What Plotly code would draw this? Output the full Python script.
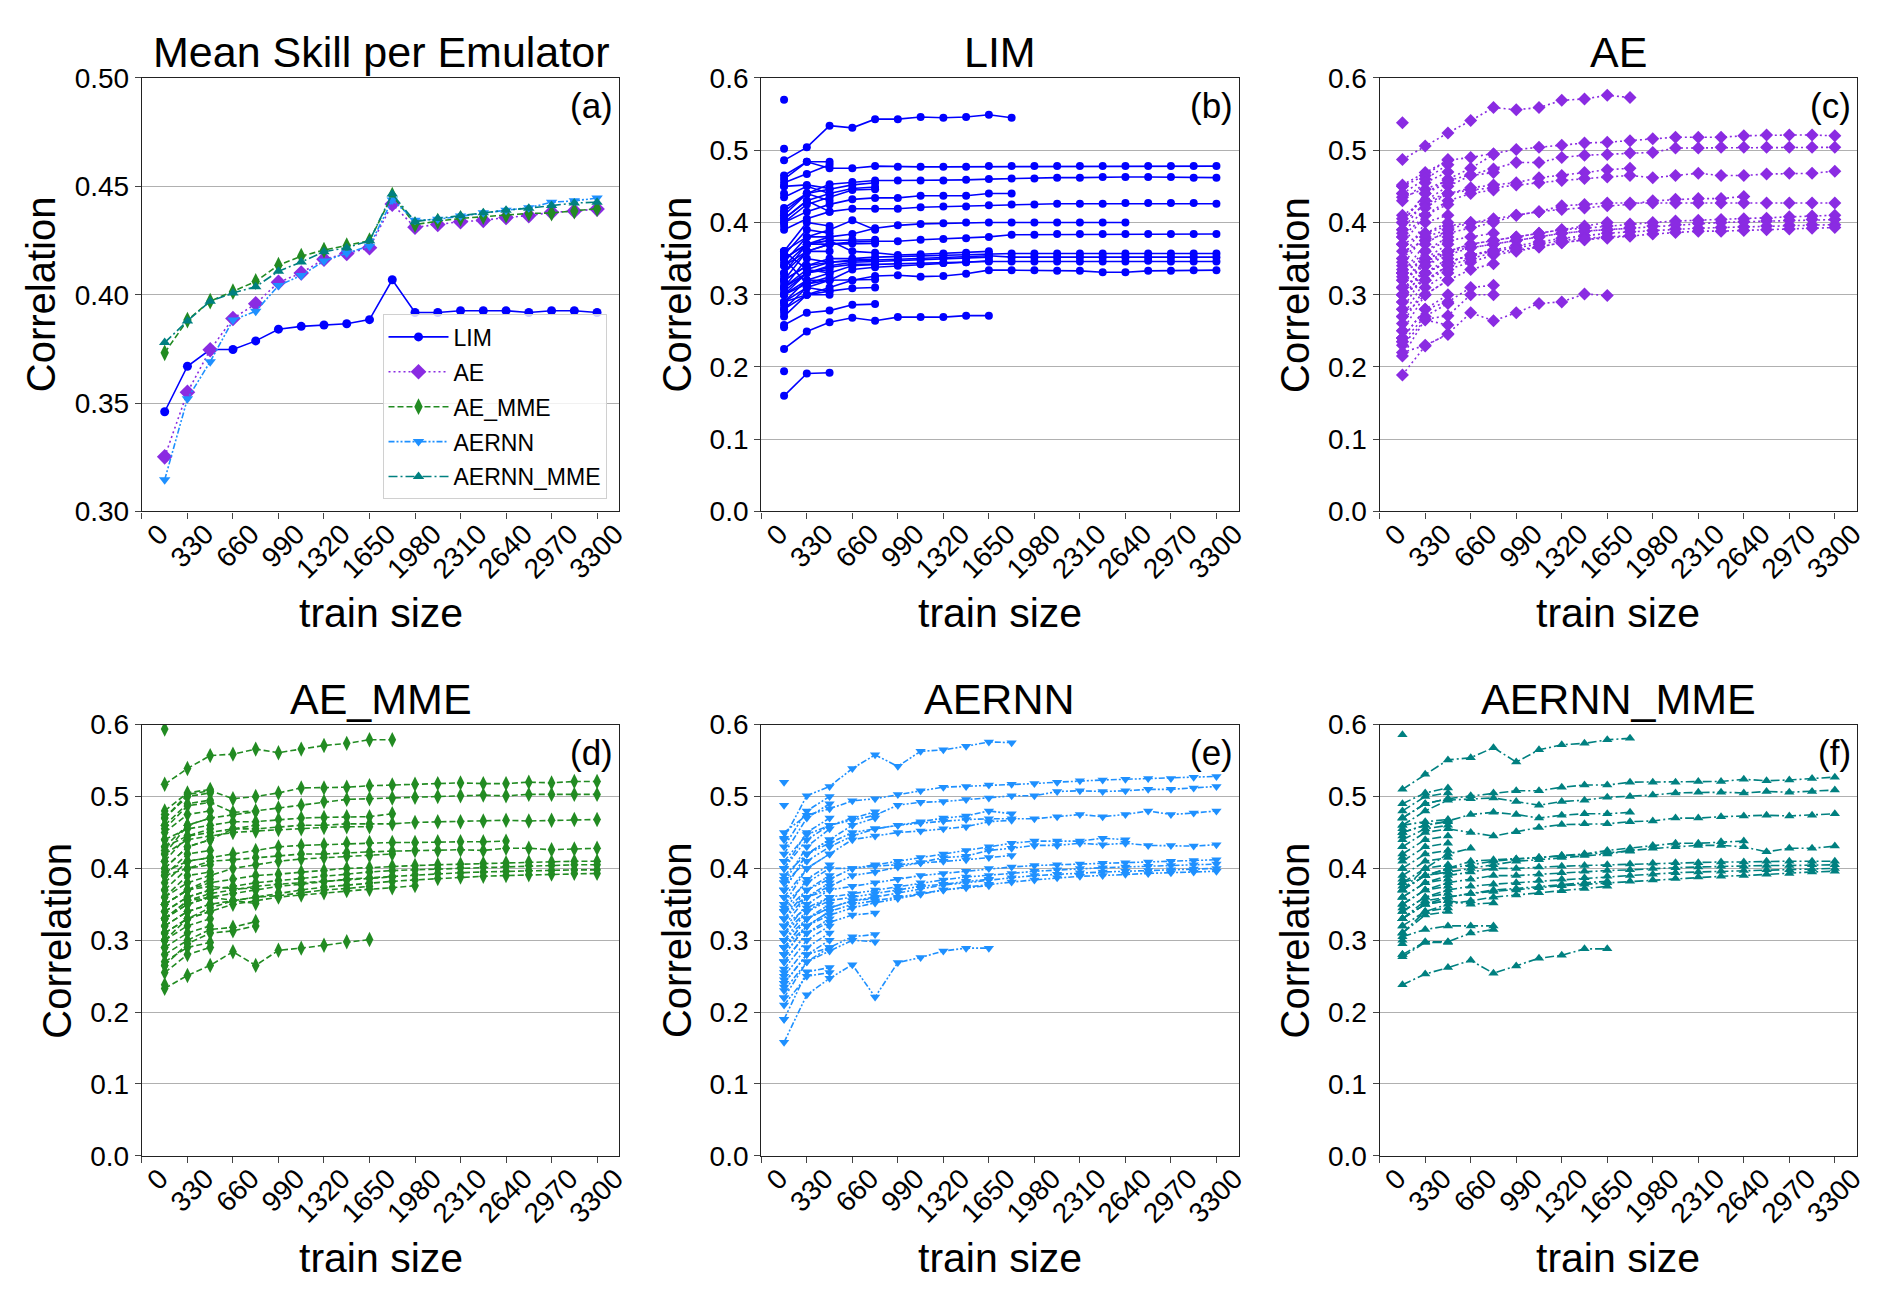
import plotly.graph_objects as go

# train sizes (x positions of every point)
TRAIN_SIZES = [165, 330, 495, 660, 825, 990, 1155, 1320, 1485, 1650,
               1815, 1980, 2145, 2310, 2475, 2640, 2805, 2970, 3135, 3300]
X_TICKS = [0, 330, 660, 990, 1320, 1650, 1980, 2310, 2640, 2970, 3300]

# (a) mean skill per emulator
MEAN_LIM = [0.346, 0.367, 0.3747, 0.3747, 0.3787, 0.3841, 0.3854, 0.386, 0.3866, 0.3885,
            0.4069, 0.3918, 0.3918, 0.3926, 0.3926, 0.3926, 0.3918, 0.3926, 0.3926, 0.3918]
MEAN_AE = [0.3252, 0.355, 0.3746, 0.389, 0.3958, 0.4057, 0.410, 0.4164, 0.419, 0.4217,
           0.4418, 0.4311, 0.4324, 0.4337, 0.4343, 0.4356, 0.4365, 0.438, 0.4386, 0.4395]
MEAN_AE_MME = [0.3732, 0.3883, 0.397, 0.4014, 0.4061, 0.4136, 0.4178, 0.4206, 0.4226, 0.4249,
               0.4459, 0.4324, 0.4339, 0.4352, 0.436, 0.4367, 0.4375, 0.4377, 0.4386, 0.4397]
MEAN_AERNN = [0.3146, 0.352, 0.3691, 0.3883, 0.3924, 0.4042, 0.4089, 0.4155, 0.4192, 0.4224,
              0.4437, 0.4343, 0.4348, 0.4363, 0.4378, 0.439, 0.4401, 0.4427, 0.4433, 0.4446]
MEAN_AERNN_MME = [0.3779, 0.3879, 0.397, 0.4008, 0.4037, 0.4108, 0.4151, 0.4198, 0.4217, 0.4249,
                  0.4465, 0.4337, 0.4352, 0.4365, 0.4378, 0.439, 0.4399, 0.4412, 0.4423, 0.4427]

# (b) LIM, one list per curve (curve i covers the first len() train sizes)
LIM_LINES = [
    [0.570], [0.502], [0.194],
    [0.486, 0.504, 0.534, 0.531, 0.543, 0.543, 0.546, 0.545, 0.546, 0.549, 0.545],
    [0.465, 0.484, 0.475, 0.475, 0.478, 0.477, 0.477, 0.477, 0.477, 0.478, 0.478, 0.478, 0.478, 0.478, 0.478, 0.478, 0.478, 0.478, 0.478, 0.478],
    [0.41, 0.44, 0.453, 0.456, 0.458, 0.458, 0.458, 0.458, 0.459, 0.460, 0.461, 0.461, 0.462, 0.462, 0.463, 0.463, 0.463, 0.463, 0.462, 0.462],
    [0.40, 0.415, 0.425, 0.432, 0.434, 0.434, 0.437, 0.437, 0.437, 0.440, 0.440],
    [0.39, 0.405, 0.415, 0.419, 0.419, 0.419, 0.421, 0.422, 0.422, 0.424, 0.425, 0.425, 0.426, 0.426, 0.426, 0.427, 0.427, 0.427, 0.427, 0.426],
    [0.34, 0.37, 0.38, 0.384, 0.392, 0.396, 0.398, 0.399, 0.400, 0.400, 0.400, 0.400, 0.400, 0.400, 0.400, 0.400],
    [0.33, 0.36, 0.37, 0.373, 0.374, 0.374, 0.376, 0.377, 0.378, 0.380, 0.383, 0.383, 0.384, 0.384, 0.384, 0.384, 0.384, 0.384, 0.384, 0.384],
    [0.32, 0.34, 0.35, 0.350, 0.352, 0.353, 0.354, 0.355, 0.356, 0.357, 0.357, 0.357, 0.357, 0.357, 0.357, 0.357, 0.357, 0.357, 0.357, 0.357],
    [0.31, 0.335, 0.345, 0.347, 0.348, 0.349, 0.350, 0.351, 0.352, 0.354, 0.352, 0.352, 0.352, 0.352, 0.352, 0.352, 0.352, 0.352, 0.352, 0.352],
    [0.30, 0.32, 0.33, 0.340, 0.342, 0.343, 0.343, 0.344, 0.345, 0.346, 0.346, 0.346, 0.346, 0.346, 0.346, 0.346, 0.347, 0.346, 0.346, 0.346],
    [0.28, 0.30, 0.31, 0.320, 0.326, 0.327, 0.325, 0.326, 0.329, 0.334, 0.334, 0.334, 0.333, 0.333, 0.331, 0.331, 0.333, 0.333, 0.334, 0.334],
    [0.35, 0.37, 0.375, 0.36, 0.358, 0.355, 0.356, 0.357, 0.358, 0.360],
    [0.31, 0.33, 0.34, 0.345, 0.346, 0.347, 0.348, 0.350, 0.350, 0.352],
    [0.29, 0.31, 0.32, 0.335, 0.338, 0.340, 0.342, 0.344, 0.345, 0.347],
    [0.225, 0.249, 0.262, 0.268, 0.264, 0.269, 0.269, 0.269, 0.271, 0.271],
    [0.160, 0.191, 0.192],
    [0.258, 0.275, 0.278, 0.286, 0.287],
    [0.290, 0.300, 0.305, 0.309, 0.310],
    [0.42, 0.44, 0.446, 0.452, 0.455], [0.405, 0.43, 0.44, 0.447, 0.449], [0.40, 0.425, 0.435, 0.445, 0.446],
    [0.36, 0.38, 0.39, 0.403, 0.39], [0.35, 0.37, 0.375, 0.376, 0.376], [0.34, 0.36, 0.37, 0.371, 0.371],
    [0.32, 0.34, 0.345, 0.348, 0.349], [0.305, 0.33, 0.338, 0.342, 0.342], [0.30, 0.315, 0.32, 0.32, 0.321],
    [0.46, 0.484, 0.484], [0.455, 0.467, 0.480], [0.45, 0.452, 0.447], [0.435, 0.45, 0.44], [0.415, 0.44, 0.43],
    [0.405, 0.43, 0.415], [0.36, 0.40, 0.395], [0.355, 0.39, 0.385], [0.345, 0.38, 0.38], [0.33, 0.37, 0.37],
    [0.32, 0.36, 0.36], [0.31, 0.35, 0.345], [0.30, 0.33, 0.335], [0.29, 0.32, 0.32], [0.28, 0.31, 0.305],
    [0.27, 0.30, 0.30], [0.36, 0.335, 0.33], [0.35, 0.315, 0.325],
    [0.45], [0.44], [0.415], [0.41], [0.395], [0.36], [0.355], [0.325], [0.315], [0.30], [0.285], [0.275], [0.255],
]

# (c) AE
AE_LINES = [
    [0.538],
    [0.487, 0.506, 0.524, 0.541, 0.559, 0.556, 0.559, 0.569, 0.571, 0.576, 0.573],
    [0.452, 0.469, 0.486, 0.490, 0.495, 0.501, 0.504, 0.507, 0.510, 0.511, 0.513, 0.516, 0.518, 0.518, 0.518, 0.520, 0.521, 0.521, 0.521, 0.520],
    [0.435, 0.446, 0.458, 0.466, 0.474, 0.483, 0.483, 0.490, 0.493, 0.494, 0.496, 0.497, 0.503, 0.503, 0.504, 0.504, 0.504, 0.504, 0.504, 0.504],
    [0.41, 0.43, 0.44, 0.445, 0.448, 0.452, 0.455, 0.458, 0.461, 0.463, 0.465, 0.462, 0.465, 0.468, 0.465, 0.465, 0.467, 0.468, 0.468, 0.471],
    [0.40, 0.425, 0.44, 0.448, 0.452, 0.455, 0.462, 0.465, 0.469, 0.473, 0.475],
    [0.36, 0.375, 0.385, 0.393, 0.40, 0.41, 0.415, 0.423, 0.425, 0.427, 0.427, 0.427, 0.427, 0.427, 0.427, 0.427, 0.427, 0.427, 0.427, 0.427],
    [0.37, 0.385, 0.395, 0.40, 0.405, 0.41, 0.415, 0.418, 0.42, 0.423, 0.425, 0.43, 0.432, 0.433, 0.433, 0.436],
    [0.33, 0.35, 0.36, 0.37, 0.375, 0.38, 0.385, 0.39, 0.392, 0.395, 0.398, 0.40, 0.402, 0.403, 0.404, 0.405, 0.406, 0.408, 0.409, 0.410],
    [0.32, 0.34, 0.355, 0.365, 0.37, 0.375, 0.38, 0.385, 0.388, 0.39, 0.393, 0.395, 0.397, 0.399, 0.40, 0.401, 0.402, 0.403, 0.404, 0.404],
    [0.31, 0.33, 0.345, 0.355, 0.362, 0.368, 0.373, 0.378, 0.382, 0.385, 0.387, 0.389, 0.391, 0.392, 0.393, 0.394, 0.395, 0.396, 0.397, 0.397],
    [0.30, 0.32, 0.335, 0.345, 0.355, 0.36, 0.366, 0.372, 0.376, 0.378, 0.381, 0.384, 0.386, 0.388, 0.388, 0.389, 0.390, 0.391, 0.392, 0.393],
    [0.33, 0.35, 0.36, 0.365, 0.37, 0.375, 0.38, 0.385, 0.388, 0.39, 0.392],
    [0.31, 0.33, 0.345, 0.355, 0.36, 0.365, 0.37, 0.375, 0.378, 0.38, 0.382],
    [0.30, 0.32, 0.34, 0.35, 0.358, 0.362, 0.366, 0.372, 0.376, 0.380],
    [0.32, 0.345, 0.36, 0.37, 0.375, 0.38, 0.385, 0.39, 0.395, 0.40],
    [0.189, 0.229, 0.246, 0.275, 0.264, 0.275, 0.288, 0.290, 0.301, 0.299],
    [0.215, 0.266, 0.271, 0.300, 0.300], [0.24, 0.28, 0.29, 0.31, 0.313],
    [0.40, 0.44, 0.46, 0.475, 0.494], [0.39, 0.43, 0.45, 0.465, 0.469], [0.38, 0.41, 0.43, 0.44, 0.445],
    [0.35, 0.38, 0.39, 0.40, 0.402], [0.33, 0.36, 0.375, 0.38, 0.385], [0.30, 0.33, 0.345, 0.355, 0.36],
    [0.27, 0.30, 0.32, 0.335, 0.343],
    [0.45, 0.465, 0.487], [0.44, 0.46, 0.48], [0.43, 0.455, 0.47], [0.40, 0.44, 0.455], [0.385, 0.42, 0.44],
    [0.37, 0.41, 0.425], [0.35, 0.40, 0.41], [0.34, 0.385, 0.40], [0.33, 0.37, 0.39], [0.31, 0.36, 0.38],
    [0.30, 0.35, 0.37], [0.29, 0.34, 0.36], [0.28, 0.33, 0.35], [0.27, 0.32, 0.34], [0.26, 0.31, 0.33],
    [0.25, 0.30, 0.32], [0.24, 0.28, 0.30], [0.235, 0.27, 0.288], [0.22, 0.23, 0.245], [0.23, 0.265, 0.258],
    [0.45], [0.44], [0.405], [0.39], [0.38], [0.37], [0.345], [0.335], [0.325], [0.31], [0.30], [0.29],
    [0.28], [0.27], [0.25], [0.24], [0.235],
]

# (d) AE_MME
AE_MME_LINES = [
    [0.594],
    [0.517, 0.539, 0.557, 0.559, 0.566, 0.561, 0.566, 0.571, 0.574, 0.579, 0.579],
    [0.47, 0.503, 0.508, 0.497, 0.500, 0.505, 0.512, 0.512, 0.513, 0.515, 0.516, 0.517, 0.518, 0.519, 0.518, 0.518, 0.520, 0.519, 0.521, 0.521],
    [0.455, 0.487, 0.492, 0.478, 0.480, 0.484, 0.488, 0.493, 0.496, 0.497, 0.498, 0.499, 0.500, 0.501, 0.502, 0.501, 0.503, 0.503, 0.503, 0.503],
    [0.43, 0.445, 0.45, 0.455, 0.455, 0.457, 0.460, 0.460, 0.462, 0.462, 0.462, 0.464, 0.465, 0.465, 0.466, 0.467, 0.466, 0.467, 0.468, 0.468],
    [0.44, 0.455, 0.46, 0.465, 0.465, 0.468, 0.470, 0.471, 0.472, 0.472, 0.476],
    [0.42, 0.44, 0.445, 0.45, 0.452, 0.454, 0.455, 0.457, 0.458, 0.458],
    [0.39, 0.40, 0.41, 0.412, 0.415, 0.418, 0.420, 0.420, 0.422, 0.423, 0.424, 0.425, 0.425, 0.426, 0.425, 0.428, 0.428, 0.426, 0.427, 0.428],
    [0.395, 0.41, 0.415, 0.42, 0.425, 0.43, 0.432, 0.433, 0.435, 0.436, 0.436, 0.436, 0.437, 0.437, 0.437, 0.438],
    [0.35, 0.37, 0.38, 0.385, 0.39, 0.392, 0.395, 0.397, 0.40, 0.401, 0.403, 0.404, 0.405, 0.406, 0.407, 0.408, 0.409, 0.409, 0.410, 0.410],
    [0.34, 0.36, 0.37, 0.375, 0.38, 0.383, 0.386, 0.39, 0.392, 0.395, 0.397, 0.398, 0.40, 0.401, 0.402, 0.403, 0.404, 0.404, 0.405, 0.405],
    [0.33, 0.35, 0.36, 0.365, 0.37, 0.375, 0.378, 0.382, 0.385, 0.387, 0.389, 0.391, 0.393, 0.394, 0.395, 0.396, 0.397, 0.397, 0.398, 0.398],
    [0.32, 0.34, 0.35, 0.355, 0.36, 0.366, 0.37, 0.374, 0.377, 0.38, 0.382, 0.384, 0.386, 0.388, 0.389, 0.390, 0.391, 0.392, 0.393, 0.393],
    [0.31, 0.33, 0.34, 0.35, 0.355, 0.36, 0.363, 0.366, 0.369, 0.371, 0.373, 0.376],
    [0.36, 0.38, 0.39, 0.40, 0.405, 0.41, 0.413, 0.415, 0.417, 0.418, 0.42],
    [0.33, 0.355, 0.365, 0.37, 0.375, 0.378, 0.38, 0.382, 0.384, 0.386, 0.388],
    [0.30, 0.33, 0.345, 0.355, 0.36, 0.362, 0.366, 0.37, 0.372, 0.375],
    [0.233, 0.251, 0.265, 0.284, 0.265, 0.286, 0.289, 0.293, 0.298, 0.301],
    [0.28, 0.30, 0.315, 0.318, 0.326], [0.265, 0.295, 0.31, 0.313, 0.320], [0.33, 0.355, 0.36, 0.355, 0.351],
    [0.35, 0.37, 0.375, 0.372, 0.372], [0.43, 0.46, 0.47, 0.475, 0.479], [0.40, 0.43, 0.44, 0.455, 0.46],
    [0.27, 0.29, 0.297], [0.255, 0.28, 0.29],
    [0.48, 0.505, 0.51], [0.47, 0.50, 0.505], [0.46, 0.49, 0.495], [0.45, 0.475, 0.48], [0.42, 0.46, 0.47],
    [0.41, 0.445, 0.455], [0.40, 0.43, 0.44], [0.39, 0.42, 0.425], [0.38, 0.41, 0.415], [0.37, 0.40, 0.405],
    [0.36, 0.39, 0.395], [0.35, 0.37, 0.385], [0.34, 0.36, 0.37], [0.33, 0.35, 0.36], [0.32, 0.34, 0.35],
    [0.31, 0.33, 0.34], [0.30, 0.32, 0.33], [0.29, 0.31, 0.32],
    [0.475], [0.46], [0.44], [0.425], [0.41], [0.39], [0.37], [0.35], [0.33], [0.31], [0.30], [0.29],
    [0.265], [0.238],
]

# (e) AERNN
AERNN_LINES = [
    [0.520], [0.488],
    [0.442, 0.501, 0.514, 0.539, 0.558, 0.542, 0.563, 0.565, 0.570, 0.576, 0.575],
    [0.45, 0.474, 0.483, 0.494, 0.497, 0.503, 0.508, 0.513, 0.514, 0.516, 0.517, 0.518, 0.520, 0.522, 0.523, 0.524, 0.525, 0.525, 0.527, 0.528],
    [0.41, 0.447, 0.46, 0.467, 0.474, 0.488, 0.492, 0.493, 0.496, 0.498, 0.501, 0.501, 0.507, 0.508, 0.507, 0.508, 0.510, 0.510, 0.512, 0.514],
    [0.39, 0.42, 0.435, 0.45, 0.455, 0.46, 0.463, 0.466, 0.468, 0.469, 0.469, 0.469, 0.472, 0.475, 0.472, 0.475, 0.480, 0.475, 0.477, 0.480],
    [0.38, 0.41, 0.43, 0.445, 0.455, 0.46, 0.465, 0.47, 0.473, 0.480, 0.476],
    [0.36, 0.40, 0.42, 0.44, 0.445, 0.45, 0.452, 0.455, 0.458, 0.465, 0.467],
    [0.33, 0.36, 0.375, 0.39, 0.395, 0.402, 0.408, 0.415, 0.417, 0.425, 0.428, 0.432, 0.432, 0.435, 0.433, 0.435, 0.432, 0.432, 0.431, 0.433],
    [0.34, 0.37, 0.385, 0.40, 0.405, 0.41, 0.415, 0.42, 0.425, 0.43, 0.435, 0.438, 0.438, 0.438, 0.442, 0.440],
    [0.34, 0.36, 0.37, 0.375, 0.38, 0.385, 0.39, 0.393, 0.396, 0.40, 0.402, 0.404, 0.405, 0.406, 0.407, 0.408, 0.409, 0.410, 0.411, 0.412],
    [0.32, 0.345, 0.36, 0.365, 0.37, 0.375, 0.38, 0.384, 0.388, 0.39, 0.393, 0.396, 0.398, 0.40, 0.401, 0.402, 0.403, 0.404, 0.405, 0.406],
    [0.30, 0.33, 0.345, 0.355, 0.36, 0.366, 0.372, 0.377, 0.38, 0.384, 0.387, 0.39, 0.392, 0.394, 0.395, 0.396, 0.397, 0.398, 0.399, 0.400],
    [0.28, 0.32, 0.335, 0.345, 0.352, 0.358, 0.364, 0.37, 0.374, 0.378, 0.381, 0.384, 0.387, 0.389, 0.39, 0.392, 0.393, 0.394, 0.395, 0.396],
    [0.35, 0.38, 0.40, 0.40, 0.403, 0.405, 0.408, 0.41, 0.412, 0.415, 0.418],
    [0.31, 0.34, 0.355, 0.36, 0.365, 0.37, 0.375, 0.378, 0.382, 0.385],
    [0.29, 0.32, 0.34, 0.35, 0.355, 0.36, 0.365, 0.37, 0.373, 0.376],
    [0.158, 0.224, 0.247, 0.266, 0.221, 0.269, 0.276, 0.285, 0.289, 0.289],
    [0.19, 0.256, 0.262], [0.21, 0.25, 0.255],
    [0.24, 0.28, 0.29, 0.305, 0.308], [0.23, 0.27, 0.285, 0.30, 0.298], [0.27, 0.31, 0.325, 0.335, 0.338],
    [0.29, 0.33, 0.345, 0.355, 0.358], [0.40, 0.44, 0.46, 0.47, 0.479], [0.37, 0.42, 0.44, 0.46, 0.47],
    [0.43, 0.48, 0.50], [0.42, 0.47, 0.49], [0.40, 0.45, 0.47], [0.38, 0.43, 0.455], [0.37, 0.42, 0.44],
    [0.35, 0.40, 0.42], [0.34, 0.385, 0.405], [0.33, 0.37, 0.39], [0.32, 0.36, 0.38], [0.31, 0.35, 0.37],
    [0.30, 0.34, 0.36], [0.29, 0.33, 0.35], [0.28, 0.32, 0.34], [0.27, 0.31, 0.33], [0.26, 0.30, 0.32],
    [0.25, 0.29, 0.31], [0.24, 0.28, 0.30], [0.22, 0.27, 0.29],
    [0.44], [0.41], [0.40], [0.385], [0.37], [0.36], [0.345], [0.33], [0.32], [0.30], [0.29], [0.28],
    [0.27], [0.255], [0.245], [0.235], [0.22], [0.19],
]

# (f) AERNN_MME
AERNN_MME_LINES = [
    [0.586],
    [0.510, 0.531, 0.551, 0.554, 0.568, 0.548, 0.565, 0.572, 0.574, 0.579, 0.581],
    [0.47, 0.49, 0.497, 0.501, 0.505, 0.508, 0.508, 0.513, 0.516, 0.516, 0.520, 0.520, 0.520, 0.521, 0.521, 0.524, 0.522, 0.523, 0.525, 0.527],
    [0.46, 0.48, 0.495, 0.497, 0.498, 0.493, 0.488, 0.493, 0.495, 0.499, 0.500, 0.502, 0.505, 0.506, 0.506, 0.505, 0.507, 0.506, 0.507, 0.509],
    [0.49, 0.505, 0.512],
    [0.43, 0.45, 0.455, 0.45, 0.445, 0.451, 0.457, 0.461, 0.462, 0.462, 0.465, 0.466, 0.470, 0.470, 0.472, 0.473, 0.474, 0.473, 0.474, 0.476],
    [0.45, 0.46, 0.466, 0.475, 0.478, 0.475, 0.47, 0.474, 0.476, 0.476, 0.478],
    [0.38, 0.39, 0.395, 0.40, 0.405, 0.41, 0.412, 0.415, 0.418, 0.420, 0.425, 0.428, 0.430, 0.432, 0.432, 0.430, 0.423, 0.428, 0.428, 0.431],
    [0.37, 0.39, 0.40, 0.41, 0.412, 0.413, 0.415, 0.418, 0.420, 0.425, 0.428, 0.432, 0.435, 0.435, 0.437, 0.438],
    [0.36, 0.38, 0.39, 0.395, 0.40, 0.40, 0.402, 0.403, 0.404, 0.405, 0.406, 0.407, 0.408, 0.408, 0.409, 0.409, 0.410, 0.410, 0.410, 0.410],
    [0.35, 0.37, 0.38, 0.385, 0.39, 0.39, 0.392, 0.394, 0.396, 0.397, 0.398, 0.40, 0.401, 0.402, 0.403, 0.403, 0.404, 0.404, 0.405, 0.405],
    [0.34, 0.36, 0.37, 0.375, 0.378, 0.38, 0.383, 0.385, 0.387, 0.389, 0.39, 0.392, 0.394, 0.395, 0.396, 0.397, 0.398, 0.398, 0.399, 0.400],
    [0.33, 0.35, 0.36, 0.365, 0.368, 0.37, 0.373, 0.376, 0.378, 0.38, 0.382, 0.384, 0.386, 0.388, 0.389, 0.39, 0.392, 0.393, 0.395, 0.396],
    [0.37, 0.39, 0.40, 0.405, 0.41, 0.413, 0.415, 0.418, 0.42, 0.422, 0.424],
    [0.33, 0.355, 0.36, 0.365, 0.37, 0.372, 0.375, 0.378, 0.38, 0.382],
    [0.31, 0.34, 0.35, 0.355, 0.36, 0.363, 0.366, 0.369, 0.372, 0.375],
    [0.238, 0.253, 0.262, 0.272, 0.254, 0.264, 0.275, 0.279, 0.288, 0.288],
    [0.28, 0.298, 0.298, 0.310, 0.315], [0.305, 0.315, 0.32, 0.32, 0.32], [0.33, 0.35, 0.355, 0.35, 0.352],
    [0.37, 0.40, 0.42, 0.428],
    [0.48, 0.50, 0.505], [0.47, 0.49, 0.497], [0.46, 0.465, 0.468], [0.45, 0.46, 0.465], [0.44, 0.455, 0.46],
    [0.42, 0.44, 0.445], [0.41, 0.43, 0.435], [0.40, 0.42, 0.425], [0.39, 0.41, 0.415], [0.38, 0.40, 0.405],
    [0.37, 0.39, 0.395], [0.36, 0.38, 0.385], [0.35, 0.37, 0.375], [0.34, 0.36, 0.365], [0.33, 0.35, 0.355],
    [0.32, 0.34, 0.345], [0.31, 0.335, 0.34], [0.277, 0.297, 0.297],
    [0.47], [0.455], [0.445], [0.43], [0.415], [0.40], [0.385], [0.375], [0.36], [0.345], [0.33], [0.32],
    [0.31], [0.30], [0.295], [0.28],
]

NAMES = ["LIM", "AE", "AE_MME", "AERNN", "AERNN_MME"]
COLORS = {"LIM": "#0000FF", "AE": "#8A2BE2", "AE_MME": "#228B22",
          "AERNN": "#1E90FF", "AERNN_MME": "#008080"}
DASHES = {"LIM": "solid", "AE": "2px,3px", "AE_MME": "6px,3px",
          "AERNN": "6px,2px,2px,2px,2px,2px", "AERNN_MME": "9px,3px,2px,3px"}
SYMBOLS = {"LIM": ("circle", 8), "AE": ("diamond", 10), "AE_MME": ("diamond-tall", 11),
           "AERNN": ("triangle-down", 9), "AERNN_MME": ("triangle-up", 9)}
# panel (a) uses a bit larger markers, like its legend
SYMBOLS_A = {"LIM": ("circle", 9), "AE": ("diamond", 12), "AE_MME": ("diamond-tall", 12),
             "AERNN": ("triangle-down", 10), "AERNN_MME": ("triangle-up", 10)}

W, H = 1892, 1309
OFF = 8  # the page body adds 8px in front of the plot
FONT = "Liberation Sans, Arial, sans-serif"
COLS = [(141.7, 621.7), (764.7, 1244.7), (1386.7, 1866.7)]
ROWS = [(64.3, 508.3), (726.7, 1168.3)]


def px(p):
    return (p - OFF) / W


def py(p):
    return 1 - (p - OFF) / H


def stack(lines):
    xs, ys = [], []
    for ln in lines:
        xs += TRAIN_SIZES[:len(ln)] + [None]
        ys += list(ln) + [None]
    return xs, ys


def style(name, legend=False, xs=None, ys=None, axis=1):
    sym, size = (SYMBOLS_A if axis == 1 else SYMBOLS)[name]
    return go.Scatter(
        x=xs, y=ys, mode="lines+markers", name=name, showlegend=legend,
        legendgroup=name if legend else None,
        xaxis="x%d" % axis if axis > 1 else "x", yaxis="y%d" % axis if axis > 1 else "y",
        line=dict(color=COLORS[name], width=1.6, dash=DASHES[name]),
        marker=dict(symbol=sym, size=size, color=COLORS[name], line=dict(width=0)),
        connectgaps=False, hoverinfo="skip")


fig = go.Figure()

means = [MEAN_LIM, MEAN_AE, MEAN_AE_MME, MEAN_AERNN, MEAN_AERNN_MME]
for name, m in zip(NAMES, means):
    fig.add_trace(style(name, True, TRAIN_SIZES, m, 1))

panels = [LIM_LINES, AE_LINES, AE_MME_LINES, AERNN_LINES, AERNN_MME_LINES]
for i, (name, lines) in enumerate(zip(NAMES, panels)):
    xs, ys = stack(lines)
    fig.add_trace(style(name, False, xs, ys, i + 2))

titles = ["Mean Skill per Emulator", "LIM", "AE", "AE_MME", "AERNN", "AERNN_MME"]
letters = ["(a)", "(b)", "(c)", "(d)", "(e)", "(f)"]

layout = dict(
    width=W, height=H, paper_bgcolor="white", plot_bgcolor="white",
    margin=dict(l=0, r=0, t=0, b=0),
    font=dict(family=FONT, color="black"),
    legend=dict(x=px(609), y=py(496), xanchor="right", yanchor="bottom",
                bgcolor="rgba(255,255,255,0.82)", bordercolor="#d0d0d0", borderwidth=1,
                font=dict(size=23, family=FONT), itemwidth=60, tracegroupgap=2),
)
annotations = []
for i in range(6):
    r, c = divmod(i, 3)
    x0, x1 = COLS[c]
    y0, y1 = ROWS[r]
    suffix = "" if i == 0 else str(i + 1)
    layout["xaxis" + suffix] = dict(
        domain=[px(x0), px(x1)], anchor="y" + suffix, range=[0, 3460],
        tickvals=X_TICKS, tickangle=-45, ticklabelshift=18, ticklabelstandoff=-12,
        tickfont=dict(size=28, family=FONT), ticks="outside", ticklen=6, tickwidth=1.3,
        showline=True, linecolor="#222222", linewidth=1.3, mirror=True,
        showgrid=False, zeroline=False)
    ydict = dict(
        domain=[py(y1), py(y0)], anchor="x" + suffix,
        tickfont=dict(size=28, family=FONT), ticks="outside", ticklen=6, tickwidth=1.3,
        showline=True, linecolor="#222222", linewidth=1.3, mirror=True,
        showgrid=True, gridcolor="#b0b0b0", gridwidth=1, zeroline=False)
    if i == 0:
        ydict.update(range=[0.30, 0.50], tickvals=[0.30, 0.35, 0.40, 0.45, 0.50], tickformat=".2f")
    else:
        ydict.update(range=[0.0, 0.6], tickvals=[0, 0.1, 0.2, 0.3, 0.4, 0.5, 0.6], tickformat=".1f")
    layout["yaxis" + suffix] = ydict

    xc = (x0 + x1) / 2
    annotations.append(dict(text=titles[i], x=px(xc), y=py(y0), xref="paper", yref="paper",
                            xanchor="center", yanchor="bottom", showarrow=False,
                            font=dict(size=43, family=FONT)))
    annotations.append(dict(text=letters[i], x=px(x1 - 4), y=py(y0 + 6),
                            xref="paper", yref="paper", xanchor="right", yanchor="top",
                            showarrow=False, font=dict(size=35, family=FONT)))
    annotations.append(dict(text="train size", x=px(xc), y=py(y1 + 130),
                            xref="paper", yref="paper", xanchor="center", yanchor="bottom",
                            showarrow=False, font=dict(size=41, family=FONT)))
    off = 102 if i == 0 else 85
    annotations.append(dict(text="Correlation", x=px(x0 - off), y=py((y0 + y1) / 2),
                            xref="paper", yref="paper", xanchor="center", yanchor="middle",
                            textangle=-90, showarrow=False, font=dict(size=40, family=FONT)))

layout["annotations"] = annotations
fig.update_layout(**layout)

fig.write_html("out.html")
